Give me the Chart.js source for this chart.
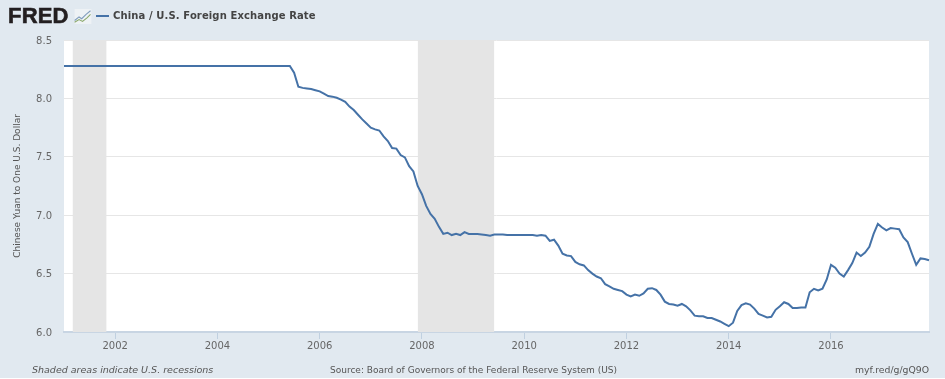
<!DOCTYPE html>
<html><head><meta charset="utf-8">
<script src="https://cdn.jsdelivr.net/npm/chart.js@4"></script>
<style>
html,body{margin:0;padding:0;background:#fff;overflow:hidden}
#wrap{position:relative;width:945px;height:378px;background:#e1e9f0;overflow:hidden}
#wrap canvas#c{position:absolute;left:0;top:0}
.t{position:absolute;white-space:nowrap}
#logo{left:8px;top:1px;font:900 22px/30px "Liberation Sans",sans-serif;color:#231f20;letter-spacing:.2px;-webkit-text-stroke:.6px #231f20}
#icon{position:absolute;left:74px;top:9px}
#sw{position:absolute;left:96px;top:15px;width:13px;height:2px;background:#4572a7}
#title{left:113px;top:9px;font:bold 10px/14px "DejaVu Sans",sans-serif;color:#444;letter-spacing:.12px}
#note{left:32px;top:363px;font:italic 9.5px/14px "DejaVu Sans",sans-serif;color:#555}
#src{left:330px;top:363px;font:9px/14px "DejaVu Sans",sans-serif;color:#555}
#ref{right:16px;top:363px;font:9.3px/14px "DejaVu Sans",sans-serif;color:#555}
</style></head>
<body><div id="wrap">
<canvas id="c" width="945" height="378"></canvas>
<div class="t" id="logo">FRED</div>
<svg id="icon" width="18" height="15" viewBox="0 0 19 17"><rect width="19" height="17" fill="#eef2f5"/><path d="M0 13 L5 9 L8 11 L13 6 L18 2" fill="none" stroke="#7f9cbc" stroke-width="1.2"/><path d="M0 15 L5 12 L9 14 L14 10 L18 6" fill="none" stroke="#8aa86a" stroke-width="1.2"/></svg>
<div id="sw"></div>
<div class="t" id="title">China / U.S. Foreign Exchange Rate</div>
<div class="t" id="note">Shaded areas indicate U.S. recessions</div>
<div class="t" id="src">Source: Board of Governors of the Federal Reserve System (US)</div>
<div class="t" id="ref">myf.red/g/gQ9O</div>
</div>
<script>
const years = [2001,2002,2003,2004,2005,2006,2007,2008,2009,2010,2011,2012,2013,2014,2015,2016,2017];
const rate2001 = [8.277,8.277,8.277,8.277,8.277,8.277,8.277,8.277,8.277,8.277,8.277,8.277];
const rate2002 = [8.277,8.277,8.277,8.277,8.277,8.277,8.277,8.277,8.277,8.277,8.277,8.277];
const rate2003 = [8.277,8.277,8.277,8.277,8.277,8.277,8.277,8.277,8.277,8.277,8.277,8.277];
const rate2004 = [8.277,8.277,8.277,8.277,8.277,8.277,8.277,8.277,8.277,8.277,8.277,8.277];
const rate2005 = [8.277,8.277,8.277,8.277,8.277,8.277,8.22,8.10,8.09,8.085,8.08,8.07];
const rate2006 = [8.06,8.04,8.02,8.015,8.005,7.99,7.97,7.93,7.90,7.86,7.82,7.785];
const rate2007 = [7.75,7.735,7.725,7.675,7.635,7.575,7.57,7.515,7.495,7.42,7.375,7.25];
const rate2008 = [7.18,7.08,7.01,6.97,6.90,6.84,6.85,6.83,6.84,6.83,6.855,6.84];
const rate2009 = [6.84,6.84,6.835,6.83,6.825,6.835,6.835,6.835,6.83,6.83,6.83,6.83];
const rate2010 = [6.83,6.83,6.83,6.825,6.83,6.825,6.78,6.79,6.74,6.67,6.655,6.65];
const rate2011 = [6.60,6.58,6.57,6.53,6.50,6.475,6.46,6.41,6.39,6.37,6.36,6.35];
const rate2012 = [6.32,6.305,6.32,6.31,6.33,6.37,6.375,6.36,6.32,6.26,6.24,6.235];
const rate2013 = [6.225,6.24,6.22,6.185,6.14,6.135,6.135,6.12,6.12,6.105,6.09,6.07];
const rate2014 = [6.05,6.08,6.18,6.23,6.245,6.235,6.20,6.155,6.14,6.125,6.13,6.19];
const rate2015 = [6.22,6.255,6.24,6.205,6.205,6.21,6.21,6.34,6.37,6.355,6.37,6.45];
const rate2016 = [6.575,6.55,6.50,6.475,6.53,6.59,6.68,6.65,6.68,6.73,6.84,6.925];
const rate2017 = [6.895,6.87,6.89,6.885,6.88,6.81,6.77,6.67,6.575,6.63,6.625,6.615];
const recessions = [["2001-03","2001-11"],["2007-12","2009-06"]];
const yTicks = [6.0,6.5,7.0,7.5,8.0,8.5];
const yearTicks = ["2002","2004","2006","2008","2010","2012","2014","2016"];

const rates = [rate2001,rate2002,rate2003,rate2004,rate2005,rate2006,rate2007,rate2008,rate2009,rate2010,rate2011,rate2012,rate2013,rate2014,rate2015,rate2016,rate2017].flat();
const labels = years.flatMap(y => Array.from({length:12},(_,m)=>y+"-"+String(m+1).padStart(2,"0")));
const recessionBand = labels.map(l => recessions.some(r => l>=r[0] && l<=r[1]) ? 8.5 : null);

const plotBg = {id:"plotBg",beforeDraw(ch){const a=ch.chartArea,g=ch.ctx;g.save();g.fillStyle="#fff";g.fillRect(a.left,a.top,a.width,a.height);g.restore();}};
const font = {family:'"DejaVu Sans",sans-serif',size:10};

new Chart(document.getElementById("c"),{
  type:"line",
  data:{labels,datasets:[
    {label:"China / U.S. Foreign Exchange Rate",data:rates,borderColor:"#4572a7",borderWidth:2,pointRadius:0,tension:0,fill:false,order:1},
    {label:"Recessions",data:recessionBand,borderWidth:0,borderColor:"rgba(0,0,0,0)",backgroundColor:"#e5e5e5",pointRadius:0,fill:"start",spanGaps:false,tension:0,order:2}
  ]},
  plugins:[plotBg],
  options:{
    responsive:false,animation:false,
    layout:{padding:{top:40,right:16,left:0,bottom:0}},
    plugins:{legend:{display:false},title:{display:false},tooltip:{enabled:false}},
    scales:{
      x:{
        type:"category",offset:false,
        afterBuildTicks(s){s.ticks=labels.map((l,i)=>({value:i,label:l})).filter(t=>t.label.endsWith("-01")&&yearTicks.includes(t.label.slice(0,4)));},
        afterFit(s){s.height=46;},
        grid:{drawOnChartArea:false,drawTicks:true,tickLength:7,color:"#c0d0e0",lineWidth:1},
        border:{display:true,color:"#c8d5e3",width:2},
        ticks:{autoSkip:false,maxRotation:0,minRotation:0,padding:1,color:"#666",font,callback(v){return this.getLabelForValue(v).slice(0,4);}}
      },
      y:{
        min:6,max:8.5,
        afterBuildTicks(s){s.ticks=yTicks.map(v=>({value:v}));},
        afterFit(s){s.width=64;},
        grid:{drawTicks:false,color:"#e6e6e6",lineWidth:1},
        border:{display:false},
        title:{display:true,text:"Chinese Yuan to One U.S. Dollar",color:"#555",font:{family:'"DejaVu Sans",sans-serif',size:9},padding:{top:12,bottom:0}},
        ticks:{padding:12,labelOffset:1,color:"#666",font,callback(v){return v.toFixed(1);}}
      }
    }
  }
});
</script>
</body></html>
